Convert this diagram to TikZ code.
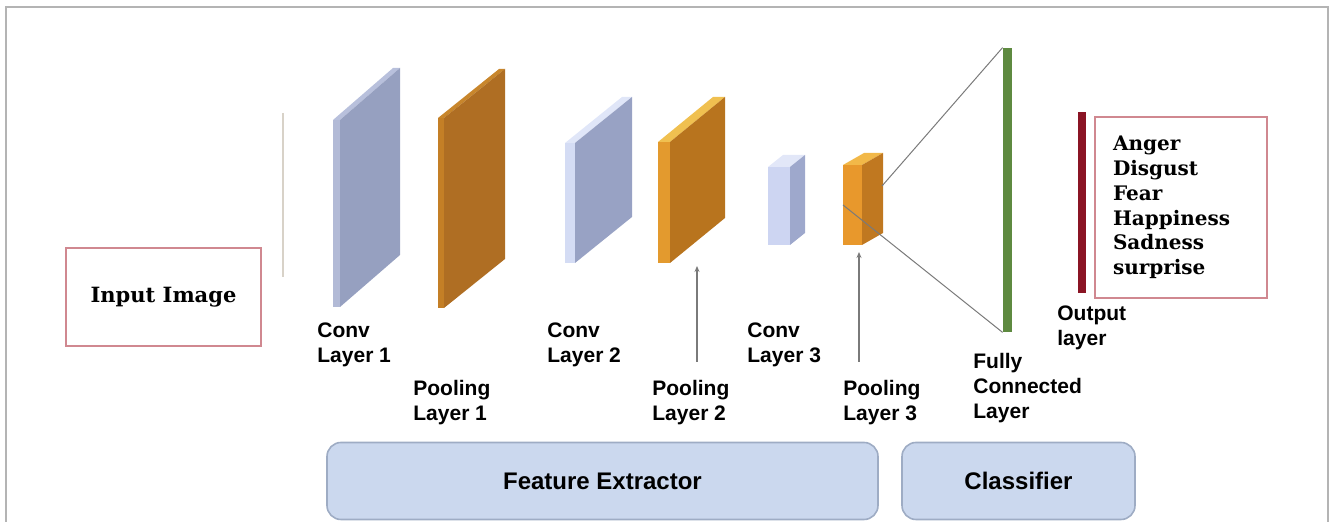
\documentclass[tikz,border=0pt]{standalone}
\usepackage{fontspec}
\setsansfont{Liberation Sans}
\newfontfamily\labelserif{DejaVu Serif}
\usetikzlibrary{arrows.meta,positioning}

\definecolor{framegray}{HTML}{B4B4B4}
\definecolor{boxred}{HTML}{D08890}
\definecolor{linkgray}{HTML}{7A7A7A}
\definecolor{partfill}{HTML}{CBD8EE}
\definecolor{partline}{HTML}{9EACC4}
\definecolor{fcgreen}{HTML}{5E8A40}
\definecolor{outred}{HTML}{8A1424}
\definecolor{guide}{HTML}{D8D2C8}
% slab faces: F front, S side, T top
\definecolor{conv1F}{HTML}{B2BAD6}\definecolor{conv1S}{HTML}{96A0C0}\definecolor{conv1T}{HTML}{B8C0DC}
\definecolor{pool1F}{HTML}{C47F26}\definecolor{pool1S}{HTML}{AF6E23}\definecolor{pool1T}{HTML}{C8862C}
\definecolor{conv2F}{HTML}{D4DCF4}\definecolor{conv2S}{HTML}{98A2C4}\definecolor{conv2T}{HTML}{E0E6F8}
\definecolor{pool2F}{HTML}{E39A2E}\definecolor{pool2S}{HTML}{B8741E}\definecolor{pool2T}{HTML}{F0C050}
\definecolor{conv3F}{HTML}{CDD5F2}\definecolor{conv3S}{HTML}{9EA8CC}\definecolor{conv3T}{HTML}{E2E7F8}
\definecolor{pool3F}{HTML}{E8982C}\definecolor{pool3S}{HTML}{C07820}\definecolor{pool3T}{HTML}{F2B848}

% #1 name, #2 #3 top left of front, #4 width, #5 height, #6 #7 depth
\newcommand{\layer}[7]{%
  \coordinate (#1) at (#2,#3);
  \fill[#1T] (#1) -- ++(#6,#7) -- ++(#4,0) -- ++({-(#6)},{-(#7)}) -- cycle;
  \fill[#1S] (#1) ++(#4,0) -- ++(#6,#7) -- ++(0,#5) -- ++({-(#6)},{-(#7)}) -- cycle;
  \fill[#1F] (#1) rectangle ++(#4,#5);
}

\begin{document}
\begin{tikzpicture}[
      x=0.5pt, y=-0.5pt,
      box/.style={draw=boxred, line width=0.8pt, inner sep=0pt},
      lbl/.style={anchor=north west, inner sep=0pt, align=left, font=\sffamily\bfseries\fontsize{10.5}{12.5}\selectfont},
      part/.style={draw=partline, fill=partfill, rounded corners=7pt, line width=0.8pt, font=\sffamily\bfseries\fontsize{12}{14}\selectfont},
      bar/.style={inner sep=0pt, minimum width=#1},
      link/.style={draw=linkgray, line width=0.5pt},
      pointer/.style={draw=linkgray, line width=0.6pt, -{Stealth[length=3pt, width=2.5pt]}}
    ]
    \useasboundingbox (0,0) rectangle (1330,522);
    \draw[framegray, line width=0.8pt] (6,522) -- (6,7) -- (1328,7) -- (1328,522);

    % Input
    \node[box, minimum width=97.5pt, minimum height=49pt,
          font=\labelserif\bfseries\fontsize{10.5}{12}\selectfont] (input) at (163.5,297) {Input Image};
    \draw[guide, line width=0.8pt] (283,113) -- (283,277);

    % Feature extractor
    \layer{conv1}{333}{120}{7}{187}{60}{-52}
    \layer{pool1}{438}{118}{6}{190}{61}{-49}
    \layer{conv2}{565}{143}{10}{120}{57}{-46}
    \layer{pool2}{658}{142}{12}{121}{55}{-45}
    \layer{conv3}{768}{167}{22}{78}{15}{-12}
    \layer{pool3}{843}{165}{19}{80}{21}{-12}

    \node[lbl] (c1lbl) at (317,322) {Conv\\Layer 1};
    \node[lbl] (p1lbl) at (413,380) {Pooling\\Layer 1};
    \node[lbl] (c2lbl) at (547,322) {Conv\\Layer 2};
    \node[lbl] (p2lbl) at (652,380) {Pooling\\Layer 2};
    \node[lbl] (c3lbl) at (747,322) {Conv\\Layer 3};
    \node[lbl] (p3lbl) at (843,380) {Pooling\\Layer 3};

    \coordinate (p2foot) at (697,362);
    \coordinate (p2tip)  at (697,266);
    \coordinate (p3foot) at (859,362);
    \coordinate (p3tip)  at (859,252);
    \draw[pointer] (p2foot) -- (p2tip);
    \draw[pointer] (p3foot) -- (p3tip);

    % Classifier
    \node[bar=4.5pt, minimum height=142pt, fill=fcgreen] (fc) at (1007.5,190) {};
    \node[bar=4pt, minimum height=90.5pt, fill=outred] (outbar) at (1082,202.5) {};
    \coordinate (p3up) at (882,186);
    \coordinate (p3lo) at (843,205);
    \draw[link] (p3up) -- (fc.north west);
    \draw[link] (p3lo) -- (fc.south west);

    \node[lbl] (fclbl)  at (973,353)  {Fully\\Connected\\Layer};
    \node[lbl] (outlbl) at (1057,305) {Output\\layer};

    \node[box, minimum width=86pt, minimum height=90.5pt, text width=68pt, inner xsep=9pt, align=left,
          font=\labelserif\bfseries\fontsize{10}{12.4}\selectfont] (emo) at (1181,207.5)
      {Anger\\Disgust\\Fear\\Happiness\\Sadness\\surprise};

    % Parts
    \node[part, minimum width=275.5pt, minimum height=38.5pt] (feat) at (602.5,481) {Feature Extractor};
    \node[part, minimum width=116.5pt, minimum height=38.5pt] (clf)  at (1018.5,481) {Classifier};
  \end{tikzpicture}
\end{document}
